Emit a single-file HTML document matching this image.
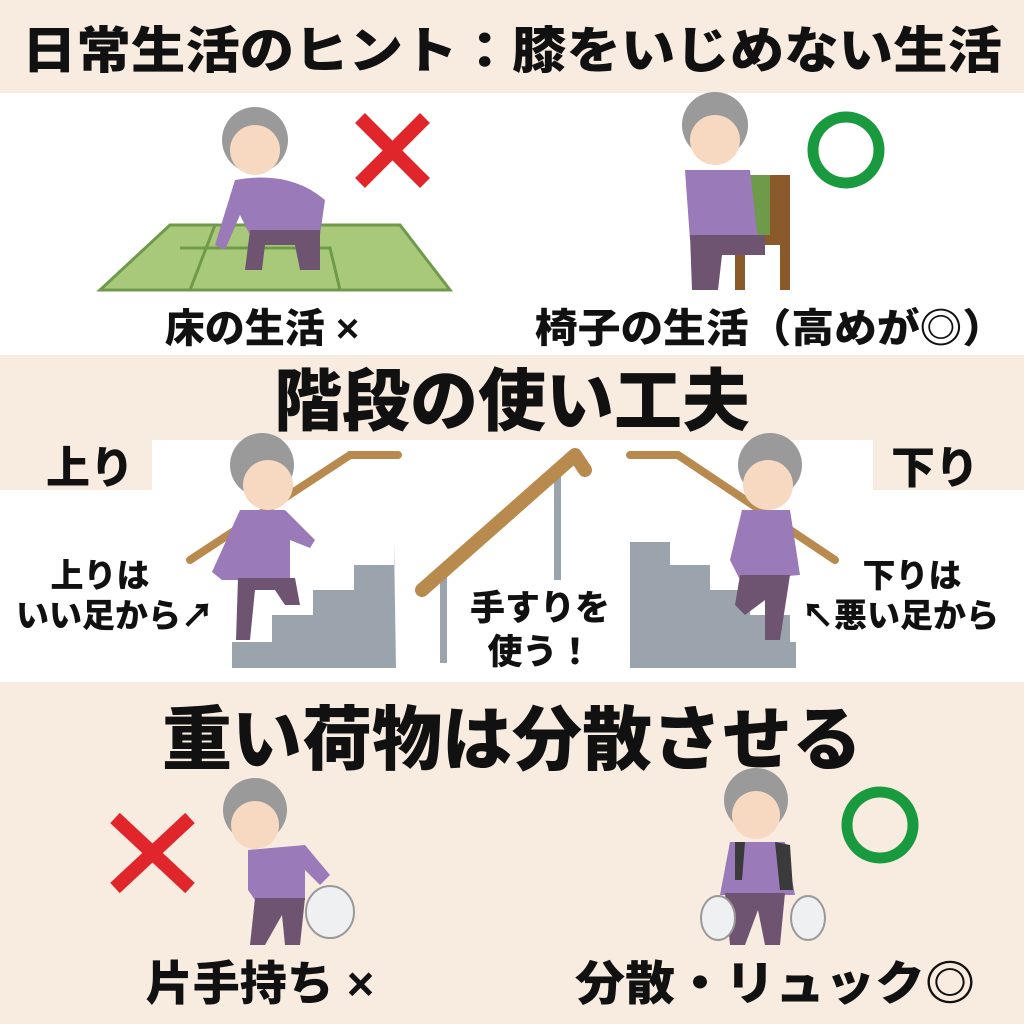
<!DOCTYPE html>
<html><head><meta charset="utf-8"><style>
html,body{margin:0;padding:0;background:#f8ece0;}
svg{display:block}
text{font-family:"Liberation Sans","Noto Sans CJK JP",sans-serif;font-weight:900;fill:#111}
</style></head><body>
<svg width="1024" height="1024" viewBox="0 0 1024 1024">
<rect width="1024" height="1024" fill="#f8ece0"/>
<rect x="0" y="93" width="1024" height="262" fill="#ffffff"/>
<rect x="0" y="440" width="1024" height="242" fill="#ffffff"/>
<rect x="0" y="440" width="152" height="50" fill="#f8ece0"/>
<rect x="873" y="440" width="151" height="50" fill="#f8ece0"/>

<text x="512" y="68" font-size="50" text-anchor="middle" textLength="980" lengthAdjust="spacingAndGlyphs">日常生活のヒント：膝をいじめない生活</text>

<polygon points="100,290 450,290 400,225 170,225" fill="#a9c97a" stroke="#6f9a4a" stroke-width="3"/>
<polyline points="190,290 215,225" fill="none" stroke="#6f9a4a" stroke-width="3"/>
<polyline points="340,290 330,248 180,248" fill="none" stroke="#6f9a4a" stroke-width="3"/>
<circle cx="255" cy="140" r="33" fill="#9a9a9a"/>
<circle cx="255" cy="150" r="25" fill="#f7d8c0"/>
<path d="M235,180 Q290,170 325,200 L320,235 L250,235 L240,215 L225,250 L215,245 Z" fill="#9a7ab8"/>
<path d="M250,230 L320,230 L320,270 L300,270 L295,245 L265,245 L262,270 L245,270 Z" fill="#6e5470"/>
<path d="M360,118 L425,183 M425,118 L360,183" stroke="#e0262a" stroke-width="14"/>
<rect x="745" y="175" width="40" height="60" fill="#6e9a4a" rx="6"/>
<path d="M770,175 L790,175 L790,290 L780,290 L780,245 L745,245 L745,290 L735,290 L735,235 L770,235 Z" fill="#8a5a2a"/>
<circle cx="715" cy="125" r="33" fill="#9a9a9a"/>
<circle cx="715" cy="140" r="25" fill="#f7d8c0"/>
<path d="M685,170 L750,170 L758,240 L690,240 Z" fill="#9a7ab8"/>
<path d="M690,235 L765,235 L765,255 L722,255 L718,290 L692,290 Z" fill="#6e5470"/>
<circle cx="846" cy="150" r="33" fill="none" stroke="#1a9a3e" stroke-width="11"/>

<text x="262" y="342" font-size="40" text-anchor="middle">床の生活 ×</text>
<text x="770" y="342" font-size="40" text-anchor="middle" textLength="470" lengthAdjust="spacingAndGlyphs">椅子の生活（高めが◎）</text>

<text x="512" y="425" font-size="68" text-anchor="middle">階段の使い工夫</text>
<text x="90" y="483" font-size="44" text-anchor="middle">上り</text>
<text x="935" y="483" font-size="44" text-anchor="middle">下り</text>

<path d="M232,668 L232,642 L272,642 L272,615 L313,615 L313,590 L354,590 L354,565 L394,565 L394,542 L396,668 Z" fill="#9ba3ac"/>
<path d="M190,560 L350,455 L398,455" stroke="#b98a4e" stroke-width="8" fill="none" stroke-linecap="round"/>
<circle cx="262" cy="465" r="32" fill="#9a9a9a"/>
<circle cx="268" cy="485" r="25" fill="#f7d8c0"/>
<path d="M240,510 L285,510 L315,540 L310,548 L290,540 L290,580 L238,580 L222,580 L212,572 Z" fill="#9a7ab8"/>
<path d="M238,578 L295,578 L300,605 L285,605 L275,590 L255,590 L250,640 L236,640 Z" fill="#6e5470"/>
<text x="100" y="587" font-size="33" text-anchor="middle">上りは</text>
<text x="115" y="627" font-size="33" text-anchor="middle">いい足から↗</text>

<rect x="440" y="575" width="7" height="88" fill="#9ba3ac"/>
<rect x="554" y="470" width="7" height="110" fill="#9ba3ac"/>
<path d="M422,590 L575,455 L585,470" stroke="#b98a4e" stroke-width="14" fill="none" stroke-linecap="round" stroke-linejoin="round"/>
<text x="540" y="620" font-size="35" text-anchor="middle">手すりを</text>
<text x="540" y="664" font-size="35" text-anchor="middle">使う！</text>

<path d="M630,668 L630,542 L670,542 L670,565 L710,565 L710,590 L750,590 L750,615 L790,615 L790,642 L796,642 L796,668 Z" fill="#9ba3ac"/>
<path d="M630,455 L678,455 L835,560" stroke="#b98a4e" stroke-width="8" fill="none" stroke-linecap="round"/>
<circle cx="770" cy="465" r="32" fill="#9a9a9a"/>
<circle cx="768" cy="485" r="25" fill="#f7d8c0"/>
<path d="M742,510 L790,510 L800,575 L740,580 L730,560 Z" fill="#9a7ab8"/>
<path d="M740,575 L790,575 L780,640 L765,640 L765,600 L745,615 L735,605 Z" fill="#6e5470"/>
<text x="912" y="587" font-size="33" text-anchor="middle">下りは</text>
<text x="900" y="627" font-size="33" text-anchor="middle">↖悪い足から</text>

<text x="512" y="764" font-size="70" text-anchor="middle">重い荷物は分散させる</text>

<path d="M115,818 L190,888 M190,818 L115,888" stroke="#e0262a" stroke-width="14"/>
<circle cx="255" cy="810" r="32" fill="#9a9a9a"/>
<circle cx="255" cy="825" r="24" fill="#f7d8c0"/>
<path d="M248,850 L305,845 L330,875 L320,885 L305,870 L305,900 L255,900 L248,890 Z" fill="#9a7ab8"/>
<path d="M255,898 L305,898 L300,945 L285,945 L282,915 L265,945 L250,945 Z" fill="#6e5470"/>
<ellipse cx="330" cy="912" rx="24" ry="26" fill="#eef0f2" stroke="#999" stroke-width="2"/>

<circle cx="756" cy="800" r="32" fill="#9a9a9a"/>
<circle cx="756" cy="815" r="24" fill="#f7d8c0"/>
<path d="M730,842 L785,842 L795,895 L720,895 Z" fill="#9a7ab8"/>
<path d="M735,842 L745,842 L742,880 L735,880 Z M775,842 L790,845 L793,890 L780,890 Z" fill="#3a3a3a"/>
<path d="M725,893 L785,893 L780,945 L765,945 L758,910 L745,945 L730,945 Z" fill="#6e5470"/>
<ellipse cx="718" cy="918" rx="17" ry="22" fill="#eef0f2" stroke="#999" stroke-width="2"/>
<ellipse cx="808" cy="918" rx="17" ry="22" fill="#eef0f2" stroke="#999" stroke-width="2"/>
<circle cx="880" cy="825" r="33" fill="none" stroke="#1a9a3e" stroke-width="11"/>

<text x="260" y="1000" font-size="47" text-anchor="middle">片手持ち ×</text>
<text x="775" y="1000" font-size="47" text-anchor="middle" textLength="400" lengthAdjust="spacingAndGlyphs">分散・リュック◎</text>
</svg>
</body></html>
